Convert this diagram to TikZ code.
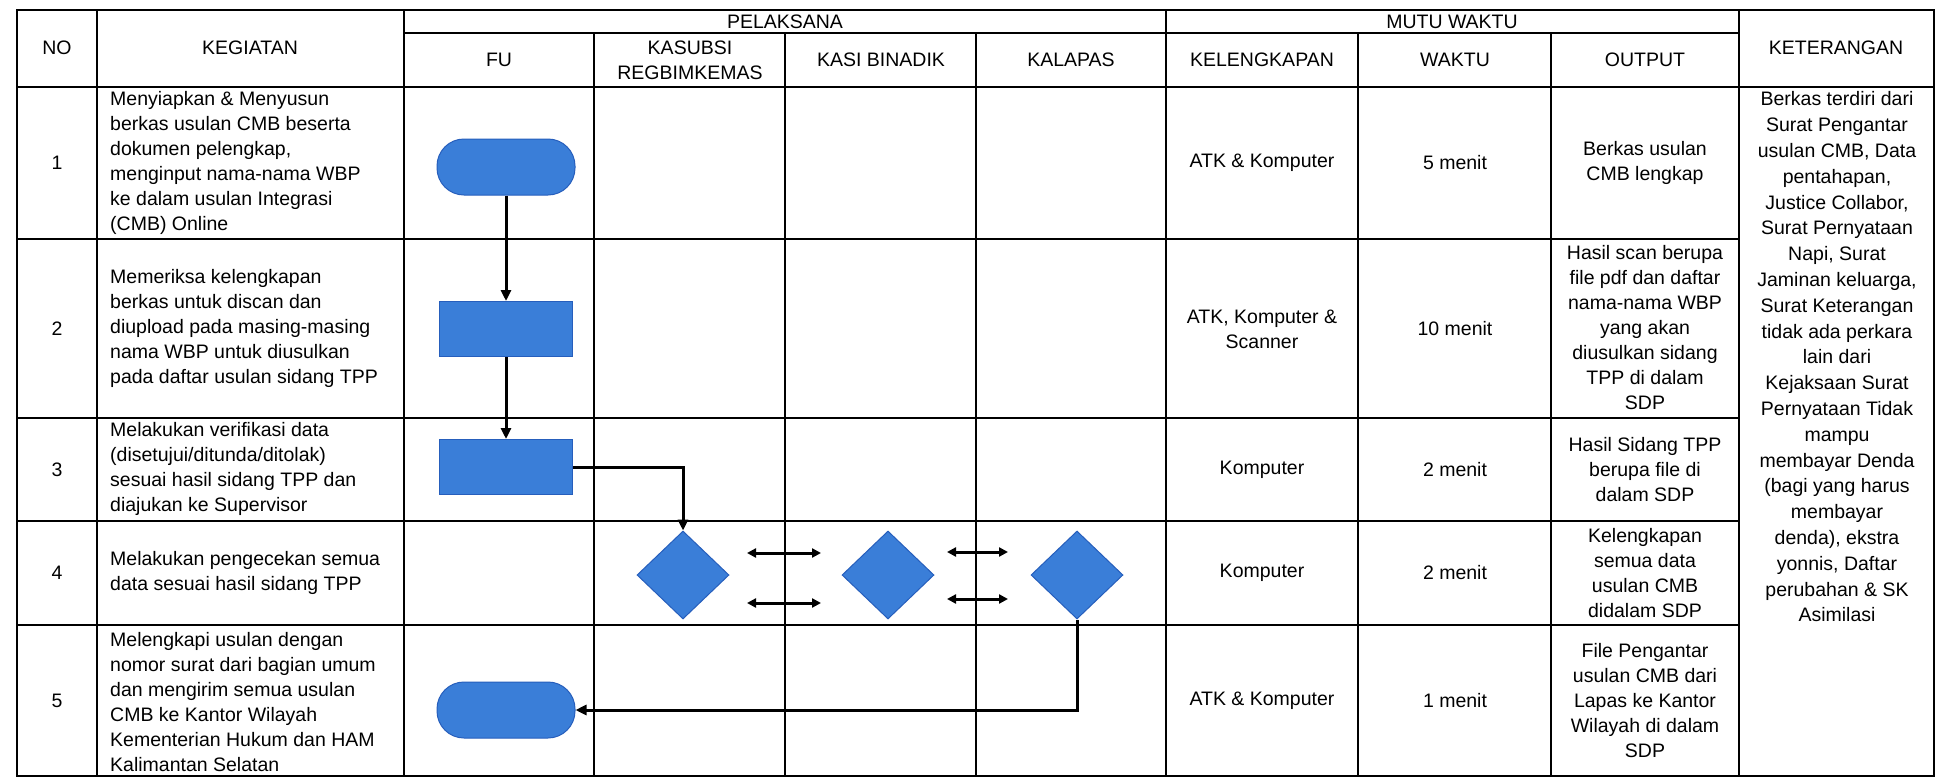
\documentclass[tikz,border=0pt]{standalone}
\usepackage{fontspec}
\setmainfont{Liberation Sans}
\usetikzlibrary{shapes.geometric,arrows.meta}
\definecolor{boxblue}{RGB}{58,126,216}
\definecolor{boxedge}{RGB}{38,94,188}
\tikzset{
  gridline/.style={line width=1.8pt},
  txt/.style={font=\fontsize{19.5}{25}\selectfont, inner sep=0pt, align=center},
  ltxt/.style={font=\fontsize{19.5}{25}\selectfont, inner sep=0pt, align=left, anchor=west},
  term/.style={draw=boxedge, fill=boxblue, line width=1pt, rectangle, rounded corners=27pt, minimum width=138pt, minimum height=56pt},
  proc/.style={draw=boxedge, fill=boxblue, line width=1pt, rectangle, minimum width=133pt, minimum height=55pt},
  dec/.style={draw=boxedge, fill=boxblue, line width=1pt, diamond, minimum width=92pt, minimum height=88pt, inner sep=0pt},
  flow/.style={line width=3pt, -{Triangle[length=11pt,width=10pt]}},
  dflow/.style={line width=3pt, {Triangle[length=9pt,width=9pt]}-{Triangle[length=9pt,width=9pt]}},
}
\begin{document}
\begin{tikzpicture}[x=1pt,y=-1pt]
\useasboundingbox (0,0) rectangle (1941,779);
\fill[white] (0,0) rectangle (1941,779);

% ---- table grid ----
\draw[gridline] (17,10) rectangle (1934,776);
\foreach \x in {97,404,1166,1739} \draw[gridline] (\x,10) -- (\x,776);
\foreach \x in {594,785,976,1358,1551} \draw[gridline] (\x,33) -- (\x,776);
\draw[gridline] (404,33) -- (1739,33);
\draw[gridline] (17,87) -- (1934,87);
\foreach \y in {239,418,521,625} \draw[gridline] (17,\y) -- (1739,\y);

% ---- header ----
\node[txt] (hno) at (57,48) {NO};
\node[txt] (hkeg) at (250,48) {KEGIATAN};
\node[txt] (hpel) at (785,22) {PELAKSANA};
\node[txt] (hmutu) at (1452,22) {MUTU WAKTU};
\node[txt] (hket) at (1836,48) {KETERANGAN};
\node[txt] (hfu) at (499,60) {FU};
\node[txt] (hkas) at (690,60) {KASUBSI\\REGBIMKEMAS};
\node[txt] (hbin) at (881,60) {KASI BINADIK};
\node[txt] (hkal) at (1071,60) {KALAPAS};
\node[txt] (hkel) at (1262,60) {KELENGKAPAN};
\node[txt] (hwak) at (1455,60) {WAKTU};
\node[txt] (hout) at (1645,60) {OUTPUT};

% ---- numbers ----
\node[txt] (n1) at (57,163) {1};
\node[txt] (n2) at (57,329) {2};
\node[txt] (n3) at (57,470) {3};
\node[txt] (n4) at (57,573) {4};
\node[txt] (n5) at (57,701) {5};

% ---- kegiatan ----
\node[ltxt] (k1) at (110,163) {Menyiapkan \& Menyusun\\berkas usulan CMB beserta\\dokumen pelengkap,\\menginput nama-nama WBP\\ke dalam usulan Integrasi\\(CMB) Online};
\node[ltxt] (k2) at (110,328) {Memeriksa kelengkapan\\berkas untuk discan dan\\diupload pada masing-masing\\nama WBP untuk diusulkan\\pada daftar usulan sidang TPP};
\node[ltxt] (k3) at (110,469) {Melakukan verifikasi data\\(disetujui/ditunda/ditolak)\\sesuai hasil sidang TPP dan\\diajukan ke Supervisor};
\node[ltxt] (k4) at (110,573) {Melakukan pengecekan semua\\data sesuai hasil sidang TPP};
\node[ltxt] (k5) at (110,702) {Melengkapi usulan dengan\\nomor surat dari bagian umum\\dan mengirim semua usulan\\CMB ke Kantor Wilayah\\Kementerian Hukum dan HAM\\Kalimantan Selatan};

% ---- kelengkapan ----
\node[txt] (l1) at (1262,163) {ATK \& Komputer};
\node[txt] (l2) at (1262,329) {ATK, Komputer \&\\Scanner};
\node[txt] (l3) at (1262,470) {Komputer};
\node[txt] (l4) at (1262,573) {Komputer};
\node[txt] (l5) at (1262,701) {ATK \& Komputer};

% ---- waktu ----
\node[txt] (w1) at (1455,163) {5 menit};
\node[txt] (w2) at (1455,329) {10 menit};
\node[txt] (w3) at (1455,470) {2 menit};
\node[txt] (w4) at (1455,573) {2 menit};
\node[txt] (w5) at (1455,701) {1 menit};

% ---- output ----
\node[txt] (o1) at (1645,163) {Berkas usulan\\CMB lengkap};
\node[txt] (o2) at (1645,328) {Hasil scan berupa\\file pdf dan daftar\\nama-nama WBP\\yang akan\\diusulkan sidang\\TPP di dalam\\SDP};
\node[txt] (o3) at (1645,470) {Hasil Sidang TPP\\berupa file di\\dalam SDP};
\node[txt] (o4) at (1645,573) {Kelengkapan\\semua data\\usulan CMB\\didalam SDP};
\node[txt] (o5) at (1645,701) {File Pengantar\\usulan CMB dari\\Lapas ke Kantor\\Wilayah di dalam\\SDP};

% ---- keterangan ----
\node[txt, font=\fontsize{19.5}{25.8}\selectfont] (ket) at (1837,357) {Berkas terdiri dari\\Surat Pengantar\\usulan CMB, Data\\pentahapan,\\Justice Collabor,\\Surat Pernyataan\\Napi, Surat\\Jaminan keluarga,\\Surat Keterangan\\tidak ada perkara\\lain dari\\Kejaksaan Surat\\Pernyataan Tidak\\mampu\\membayar Denda\\(bagi yang harus\\membayar\\denda), ekstra\\yonnis, Daftar\\perubahan \& SK\\Asimilasi};

% ---- flow shapes ----
\node[term] (t1) at (506,167) {};
\node[proc] (p2) at (506,329) {};
\node[proc] (p3) at (506,467) {};
\node[dec] (d1) at (683,575) {};
\node[dec] (d2) at (888,575) {};
\node[dec] (d3) at (1077,575) {};
\node[term] (t5) at (506,710) {};

% ---- connectors ----
\draw[flow] (t1.south) -- (p2.north);
\draw[flow] (p2.south) -- (p3.north);
\draw[flow] (p3.east) -| (d1.north);
\draw[flow] (d3.south) |- (t5.east);

\coordinate (a1l) at (747,553); \coordinate (a1r) at (821,553);
\coordinate (a2l) at (747,603); \coordinate (a2r) at (821,603);
\coordinate (b1l) at (947,552); \coordinate (b1r) at (1008,552);
\coordinate (b2l) at (947,599); \coordinate (b2r) at (1008,599);
\draw[dflow] (a1l) -- (a1r);
\draw[dflow] (a2l) -- (a2r);
\draw[dflow] (b1l) -- (b1r);
\draw[dflow] (b2l) -- (b2r);
\end{tikzpicture}
\end{document}
